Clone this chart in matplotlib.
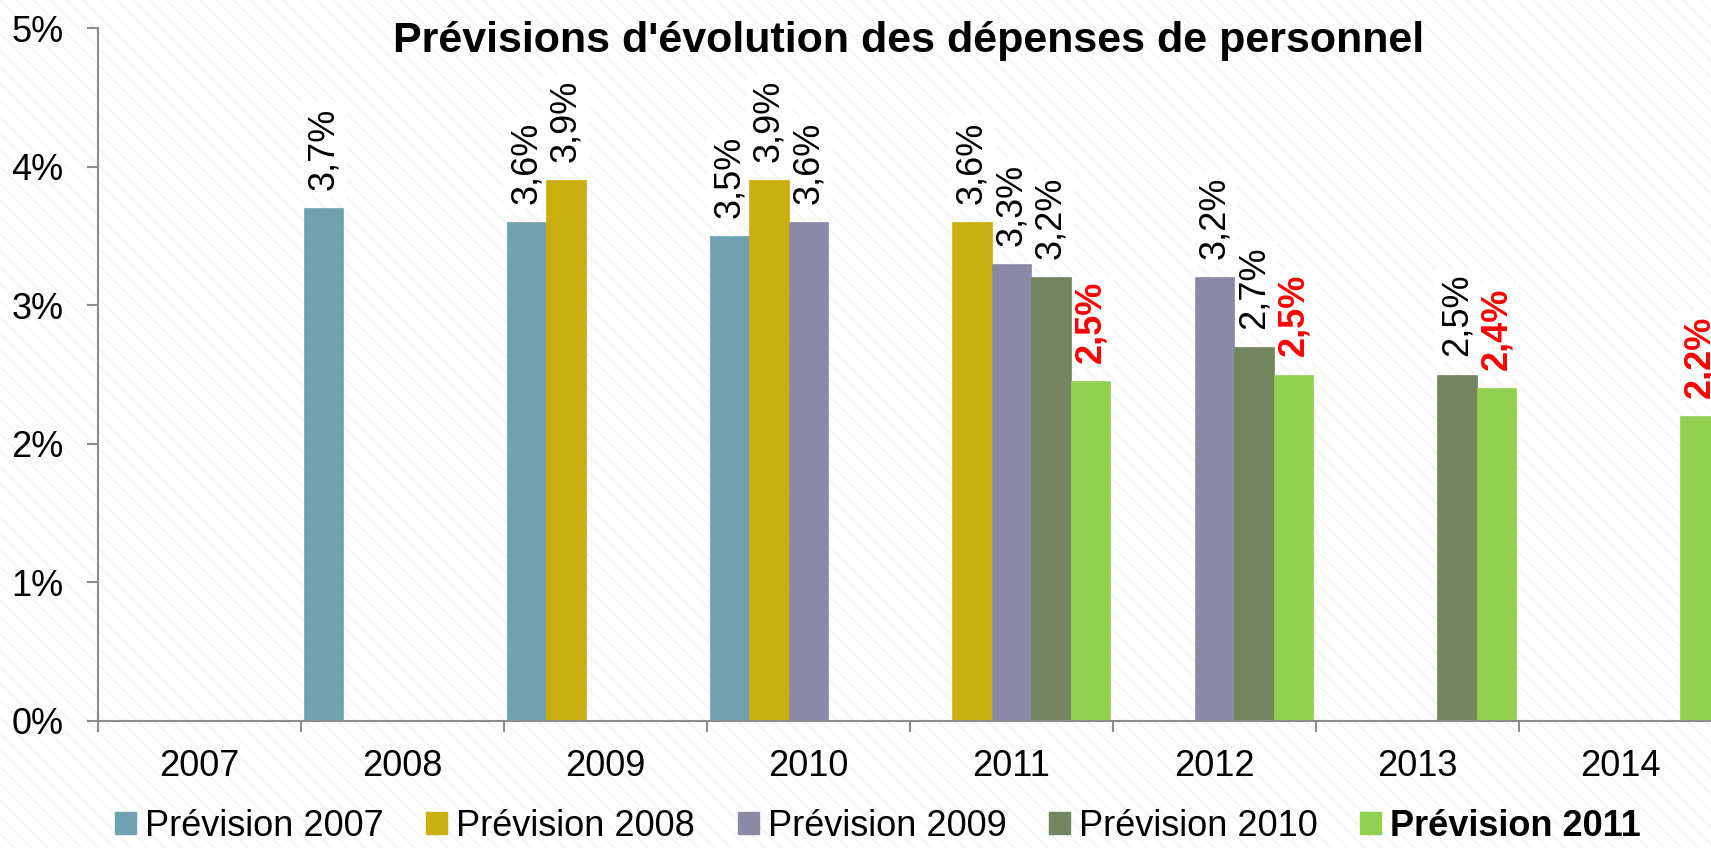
import matplotlib
matplotlib.use("Agg")
import matplotlib.pyplot as plt
from matplotlib.patches import Patch, Rectangle
import numpy as np

plt.rcParams['font.family'] = ['Liberation Sans', 'DejaVu Sans']
plt.rcParams['hatch.linewidth'] = 1.0

title = "Prévisions d'évolution des dépenses de personnel"
years = ["2007", "2008", "2009", "2010", "2011", "2012", "2013", "2014"]
series_names = ["Prévision 2007", "Prévision 2008", "Prévision 2009",
                "Prévision 2010", "Prévision 2011"]
colors = ["#6FA1B0", "#CAAF11", "#8B89A6", "#748660", "#92D050"]

prev_2007 = [None, 3.7, 3.6, 3.5, None, None, None, None]
prev_2008 = [None, None, 3.9, 3.9, 3.6, None, None, None]
prev_2009 = [None, None, None, 3.6, 3.3, 3.2, None, None]
prev_2010 = [None, None, None, None, 3.2, 2.7, 2.5, None]
prev_2011 = [None, None, None, None, 2.45, 2.5, 2.4, 2.2]
label_2011 = ["", "", "", "", "2,5%", "2,5%", "2,4%", "2,2%"]

series = [prev_2007, prev_2008, prev_2009, prev_2010, prev_2011]

W, H = 1711, 848
fig = plt.figure(figsize=(W / 100, H / 100), dpi=100)
fig.patch.set_facecolor("white")
bg = Rectangle((0, 0), 1, 1, transform=fig.transFigure, facecolor="white",
               edgecolor="#F3F3F3", hatch="\\\\", linewidth=0, zorder=-10)
fig.patches.append(bg)

ax = fig.add_axes([98 / W, 1 - 721 / H, (1722 - 98) / W, (721 - 28) / H])
ax.patch.set_alpha(0)

bw = 0.194
x = np.arange(len(years))
for i, (vals, col, name) in enumerate(zip(series, colors, series_names)):
    off = (i - 2) * bw
    for j, v in enumerate(vals):
        if v is None:
            continue
        ax.bar(x[j] + off, v, width=bw, color=col, edgecolor=col, linewidth=0.5, zorder=3)
        if i == 4:
            txt, c, fw = label_2011[j], "#FF0000", "bold"
        else:
            txt, c, fw = f"{v:.1f}%".replace(".", ","), "black", "normal"
        ax.annotate(txt, (x[j] + off, v), xytext=(0, 13), textcoords="offset points",
                    rotation=90, ha="center", va="bottom", fontsize=26, color=c,
                    fontweight=fw, zorder=2, annotation_clip=False,
                    bbox=dict(boxstyle="square,pad=0.15", facecolor="white", edgecolor="none"))

ax.set_xlim(-0.5, 7.5)
ax.set_ylim(0, 5)
ax.set_yticks([0, 1, 2, 3, 4, 5])
ax.set_yticklabels([f"{k}%" for k in range(6)])
ax.set_xticks(x)
ax.set_xticklabels(years)
ax.set_xticks(np.arange(-0.5, 8.0, 1.0), minor=True)
ax.tick_params(axis="x", which="major", length=0, pad=20, labelsize=26)
ax.tick_params(axis="x", which="minor", length=8, width=1.5, color="#8C8C8C")
ax.tick_params(axis="y", length=8, width=1.5, color="#8C8C8C", pad=17, labelsize=26)
for s in ["top", "right"]:
    ax.spines[s].set_visible(False)
for s in ["left", "bottom"]:
    ax.spines[s].set_color("#8C8C8C")
    ax.spines[s].set_linewidth(1.5)
ax.spines["left"].set_zorder(5)
ax.spines["bottom"].set_zorder(5)

fig.text(909 / W, 1 - 41 / H, title, ha="center", va="center", fontsize=31,
         fontweight="bold")

handles = [Patch(facecolor=c, edgecolor=c) for c in colors]
leg = fig.legend(handles, series_names, loc="center", bbox_to_anchor=(878 / W, 1 - 826 / H),
                 ncol=5, frameon=False, fontsize=26, handlelength=0.58, handleheight=0.58,
                 handletextpad=0.25, columnspacing=1.18, borderpad=0, borderaxespad=0)
leg.get_texts()[4].set_fontweight("bold")

fig.savefig("out.png", dpi=100)
